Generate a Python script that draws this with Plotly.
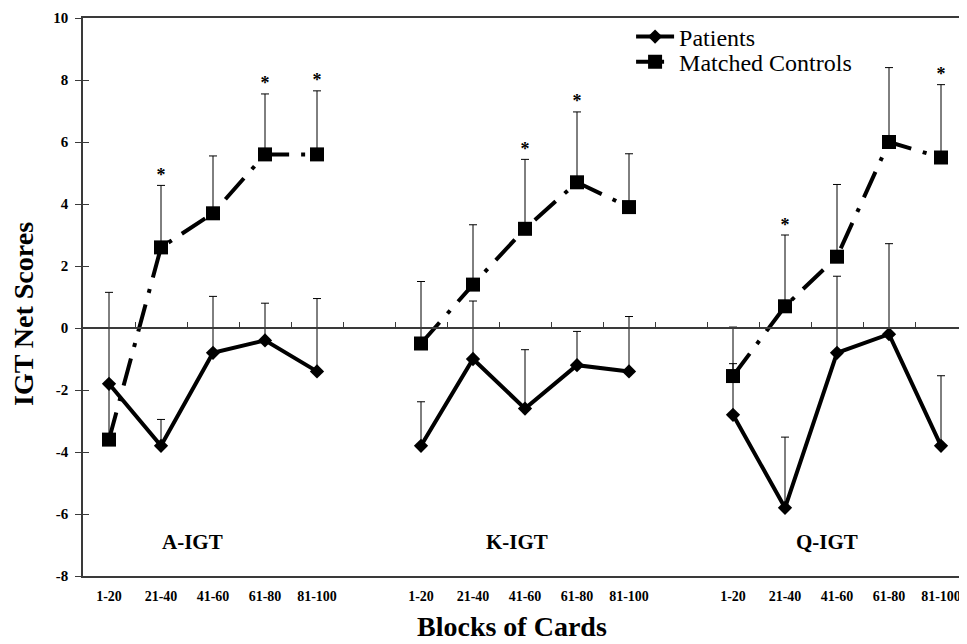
import plotly.graph_objects as go

# ---- data ----
blocks = ["1-20", "21-40", "41-60", "61-80", "81-100"]
tasks = ["A-IGT", "K-IGT", "Q-IGT"]

patients_A = [-1.8, -3.8, -0.8, -0.4, -1.4]
patients_K = [-3.8, -1.0, -2.6, -1.2, -1.4]
patients_Q = [-2.8, -5.8, -0.8, -0.2, -3.8]
patients_err_A = [2.95, 0.85, 1.82, 1.2, 2.35]
patients_err_K = [1.42, 1.87, 1.9, 1.09, 1.77]
patients_err_Q = [1.65, 2.28, 2.47, 2.92, 2.26]

controls_A = [-3.6, 2.6, 3.7, 5.6, 5.6]
controls_K = [-0.5, 1.4, 3.2, 4.7, 3.9]
controls_Q = [-1.55, 0.7, 2.3, 6.0, 5.5]
controls_err_A = [1.8, 2.0, 1.85, 1.95, 2.05]
controls_err_K = [2.0, 1.93, 2.24, 2.27, 1.72]
controls_err_Q = [1.58, 2.3, 2.33, 2.4, 2.35]

sig_A = [0, 1, 0, 1, 1]
sig_K = [0, 0, 1, 1, 0]
sig_Q = [0, 1, 0, 0, 1]

y_ticks = [-8, -6, -4, -2, 0, 2, 4, 6, 8, 10]
y_tick_text = ["-8", "-6", "-4", "-2", "0", "2", "4", "6", "8", "10"]
y_range = [-8, 10]
task_label_x = [1.6, 7.85, 13.8]
task_label_y = -6.9

# ---- layout helpers ----
gap = 1  # one empty category between task panels
step = len(blocks) + gap
x_range = [-0.5, len(tasks) * step - gap - 0.5]

def flat(series_list):
    out = []
    for k, s in enumerate(series_list):
        out.extend(s)
        if k < len(series_list) - 1:
            out.append(None)
    return out

xs = []
for k in range(len(tasks)):
    xs.extend([k * step + i for i in range(len(blocks))])
    if k < len(tasks) - 1:
        xs.append(None)

p_y = flat([patients_A, patients_K, patients_Q])
p_e = flat([patients_err_A, patients_err_K, patients_err_Q])
c_y = flat([controls_A, controls_K, controls_Q])
c_e = flat([controls_err_A, controls_err_K, controls_err_Q])
sig = flat([sig_A, sig_K, sig_Q])
zeros = [0 if v is not None else None for v in p_y]

SERIF = "Liberation Serif"
AX = "#3a3a3a"

fig = go.Figure()

fig.add_trace(go.Scatter(
    x=xs, y=c_y, name="Matched Controls", mode="lines+markers",
    line=dict(color="black", width=4, dash="28px,12px,4px,12px"),
    marker=dict(symbol="square", size=14, color="black"),
    error_y=dict(type="data", symmetric=False, array=c_e, arrayminus=zeros,
                 color="black", thickness=1, width=4),
    connectgaps=False, legend="legend2",
))
fig.add_trace(go.Scatter(
    x=xs, y=p_y, name="Patients", mode="lines+markers",
    line=dict(color="black", width=4),
    marker=dict(symbol="diamond", size=11, color="black"),
    error_y=dict(type="data", symmetric=False, array=p_e, arrayminus=zeros,
                 color="black", thickness=1, width=4),
    connectgaps=False, legend="legend",
))

# significance asterisks above control error bars
ast_x, ast_y = [], []
for x, y, e, s in zip(xs, c_y, c_e, sig):
    if x is not None and s:
        ast_x.append(x)
        ast_y.append(y + e)
fig.add_trace(go.Scatter(
    x=ast_x, y=ast_y, mode="text", text=["*"] * len(ast_x),
    textposition="top center", showlegend=False, hoverinfo="skip",
    textfont=dict(family=SERIF, size=18, color="black", weight="bold"),
))

# dummy trace for overlay axes (zero line with boundary ticks, inner y ticks)
fig.add_trace(go.Scatter(x=[None], y=[None], xaxis="x2", yaxis="y2",
                         showlegend=False, hoverinfo="skip"))

boundaries = [i + 0.5 for i in range(int(x_range[1] - x_range[0]) - 1)]

legend_common = dict(
    xanchor="left", yanchor="middle",
    font=dict(family=SERIF, size=24, color="black"),
    bgcolor="rgba(0,0,0,0)", borderwidth=0, itemwidth=38,
)

fig.update_layout(
    width=959, height=636,
    margin=dict(l=75, r=0, t=10, b=68),
    plot_bgcolor="white", paper_bgcolor="white",
    showlegend=True,
    legend=dict(x=0.620, y=0.966, **legend_common),
    legend2=dict(x=0.620, y=0.921, **legend_common),
    xaxis=dict(
        range=x_range, showgrid=False, zeroline=False,
        showline=True, mirror=True, linecolor=AX, linewidth=1.5,
        tickmode="array",
        tickvals=[x for x in xs if x is not None],
        ticktext=blocks * len(tasks),
        ticks="", ticklabelstandoff=6,
        tickfont=dict(family=SERIF, size=14, color="black", weight="bold"),
    ),
    xaxis2=dict(
        range=x_range, overlaying="x", anchor="free",
        position=(0 - y_range[0]) / (y_range[1] - y_range[0]),
        showgrid=False, zeroline=False, showline=True,
        linecolor=AX, linewidth=1.5,
        tickmode="array", tickvals=boundaries, ticks="inside",
        ticklen=5, tickwidth=1, tickcolor=AX, showticklabels=False,
    ),
    yaxis=dict(
        range=y_range, showgrid=False, zeroline=False,
        showline=True, linecolor=AX, linewidth=1.5,
        tickmode="array", tickvals=y_ticks, ticktext=y_tick_text,
        ticks="outside", ticklen=6, tickwidth=1, tickcolor=AX,
        ticklabelstandoff=4,
        tickfont=dict(family=SERIF, size=15, color="black", weight="bold"),
    ),
    yaxis2=dict(
        range=y_range, overlaying="y", anchor="x", side="left",
        showgrid=False, zeroline=False, showline=False,
        tickmode="array", tickvals=y_ticks[:-1], ticks="inside",
        ticklen=6, tickwidth=1, tickcolor=AX, showticklabels=False,
    ),
)

annotations = []
for lbl, lx in zip(tasks, task_label_x):
    annotations.append(dict(
        x=lx, y=task_label_y, xref="x", yref="y", text=lbl, showarrow=False,
        font=dict(family=SERIF, size=21, color="black", weight="bold"),
    ))
annotations.append(dict(
    x=0, y=0.4695, xref="paper", yref="paper", xshift=-60,
    xanchor="center", yanchor="middle",
    text="IGT Net Scores", textangle=-90, showarrow=False,
    font=dict(family=SERIF, size=28, color="black", weight="bold"),
))
annotations.append(dict(
    x=0.485, y=-0.091, xref="paper", yref="paper",
    xanchor="center", yanchor="middle",
    text="Blocks of Cards", showarrow=False,
    font=dict(family=SERIF, size=28, color="black", weight="bold"),
))
fig.update_layout(annotations=annotations)

fig.write_html("out.html")
